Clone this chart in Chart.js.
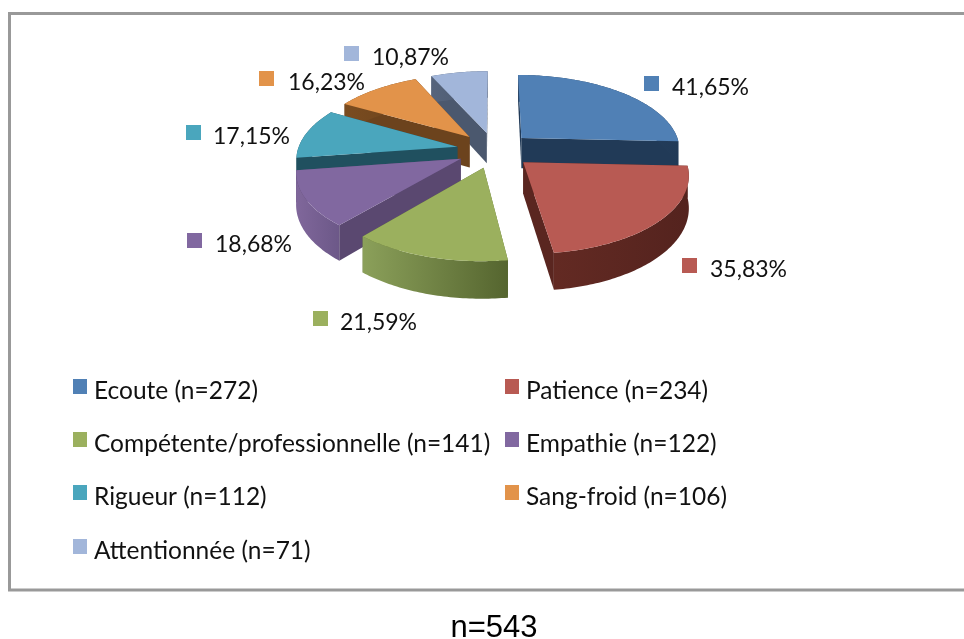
<!DOCTYPE html>
<html>
<head>
<meta charset="utf-8">
<title>Qualités</title>
<script src="https://cdn.jsdelivr.net/npm/chart.js@4"></script>
<style>
  html, body { margin: 0; padding: 0; background: #fff; overflow: hidden; }
  #wrap { position: relative; width: 964px; height: 639px; }
</style>
</head>
<body>
<div id="wrap"><canvas id="chartQualites" width="964" height="639"></canvas></div>
<script>
var categories = ['Ecoute', 'Patience', 'Compétente/professionnelle', 'Empathie', 'Rigueur', 'Sang-froid', 'Attentionnée'];
var counts = [272, 234, 141, 122, 112, 106, 71];
var percentLabels = ['41,65%', '35,83%', '21,59%', '18,68%', '17,15%', '16,23%', '10,87%'];
var totalLabel = 'n=543';

var topColors = ['#5080b5', '#b85a53', '#9bb05e', '#8168a0', '#4aa6bd', '#e2934a', '#a2b6da'];
var radialColors = ['#213a57', '#5a2620', '#5f7034', '#5a4870', '#20505f', '#6c431d', '#4b586e'];
var rimLeft = ['#2a4668', '#632a23', '#8ba05a', '#80679b', '#20505f', '#7a4c20', '#56647c'];
var rimRight = ['#213a57', '#54231e', '#55652f', '#6c5888', '#20505f', '#6c431d', '#4b586e'];

// where the small keys of the value labels sit, and where their text starts
var valueKeys = [[644, 76], [682, 258], [313, 311], [187, 233], [186, 125], [259, 71], [344, 46]];
var valueTextX = [672, 710, 340, 215, 213, 288, 372];
var legendRows = [387, 440, 493, 547];
var legendCols = [73, 505];

var FONT = 'Lato, "Noto Sans", sans-serif';
var TILT_X = 0.95, TILT_Y = 0.446, PERSPECTIVE = 0.14, DEPTH = 0.185;

// ground plane -> screen, the front of the pie comes out bigger than the back
var project = function(arc, u, v, lowered) {
  var r = arc.outerRadius;
  var w = 1 - PERSPECTIVE * v;
  return {
    x: arc.x + r * TILT_X * u / w,
    y: arc.y + r * TILT_Y * v / w + (lowered ? r * DEPTH / w : 0)
  };
}

var fillPoly = function(ctx, pts, fill) {
  ctx.beginPath();
  pts.forEach(function(p, i) {
    if(i == 0) ctx.moveTo(p.x, p.y); else ctx.lineTo(p.x, p.y);
  });
  ctx.closePath();
  ctx.fillStyle = fill;
  ctx.fill();
}

var drawSlice = function(ctx, arc, i) {
  // chart.js angles start at 3 o'clock, the plane wants them from 12 o'clock
  var a0 = arc.startAngle + Math.PI / 2;
  var a1 = arc.endAngle + Math.PI / 2;
  var mid = (a0 + a1) / 2;
  var e = arc.options.offset / arc.outerRadius;
  var ou = e * Math.sin(mid), ov = -e * Math.cos(mid);

  var steps = Math.max(8, Math.round((a1 - a0) * 60));
  var edge = [];
  for(var s = 0; s <= steps; s++) {
    var a = a0 + (a1 - a0) * s / steps;
    edge.push({ a: a, u: ou + Math.sin(a), v: ov - Math.cos(a) });
  }
  var apex = { u: ou, v: ov };
  var top = function(p) { return project(arc, p.u, p.v, false); };
  var low = function(p) { return project(arc, p.u, p.v, true); };
  var first = edge[0], last = edge[edge.length - 1];

  // side walls, the ones further back go first
  var walls = [first, last].sort(function(p, q) { return p.v - q.v; });
  walls.forEach(function(p) {
    fillPoly(ctx, [top(apex), top(p), low(p), low(apex)], radialColors[i]);
  });

  var topPts = edge.map(top);
  var lowPts = edge.map(low).reverse();
  var xs = topPts.map(function(p) { return p.x; });
  var grad = ctx.createLinearGradient(Math.min.apply(null, xs), 0, Math.max.apply(null, xs), 0);
  grad.addColorStop(0, rimLeft[i]);
  grad.addColorStop(1, rimRight[i]);
  fillPoly(ctx, topPts.concat(lowPts), grad);

  fillPoly(ctx, [top(apex)].concat(topPts), topColors[i]);
}

var pie3d = {
  id: 'pie3d',
  beforeDatasetDraw: function(chart, args) {
    var ctx = chart.ctx;
    var arcs = args.meta.data;
    var order = arcs.map(function(arc, i) { return i; });
    // painter's order, back slices first
    order.sort(function(p, q) {
      return -Math.cos((arcs[p].startAngle + arcs[p].endAngle) / 2 + Math.PI / 2)
           + Math.cos((arcs[q].startAngle + arcs[q].endAngle) / 2 + Math.PI / 2);
    });
    order.forEach(function(i) { drawSlice(ctx, arcs[i], i); });
    return false;
  }
};

var decorations = {
  id: 'decorations',
  afterDraw: function(chart) {
    var ctx = chart.ctx;
    ctx.save();

    // frame runs off the right edge of the page
    ctx.strokeStyle = '#999';
    ctx.lineWidth = 3;
    ctx.beginPath();
    ctx.moveTo(970, 13.5);
    ctx.lineTo(9.5, 13.5);
    ctx.lineTo(9.5, 590);
    ctx.lineTo(970, 590);
    ctx.stroke();

    ctx.textBaseline = 'middle';
    ctx.textAlign = 'left';
    ctx.fillStyle = '#111';

    ctx.font = '23px ' + FONT;
    percentLabels.forEach(function(text, i) {
      var k = valueKeys[i];
      ctx.fillStyle = topColors[i];
      ctx.fillRect(k[0], k[1], 15, 15);
      ctx.fillStyle = '#111';
      ctx.fillText(text, valueTextX[i], k[1] + 12);
    });

    ctx.font = '24.5px ' + FONT;
    categories.forEach(function(name, i) {
      var x = legendCols[i % 2], y = legendRows[Math.floor(i / 2)];
      ctx.fillStyle = topColors[i];
      ctx.fillRect(x, y - 8, 14, 15);
      ctx.fillStyle = '#111';
      ctx.fillText(name + ' (n=' + counts[i] + ')', x + 21, y + 4);
    });

    ctx.fillStyle = '#000';
    ctx.textAlign = 'center';
    ctx.font = '31px "Liberation Sans", Arial, sans-serif';
    ctx.fillText(totalLabel, 494, 628.5);
    ctx.restore();
  }
};

window.chartQualites = new Chart(document.getElementById('chartQualites').getContext('2d'), {
  type: 'pie',
  data: {
    labels: categories,
    datasets: [{ data: counts, backgroundColor: topColors, offset: 40, borderWidth: 0 }]
  },
  options: {
    responsive: false,
    animation: false,
    radius: 168,
    layout: { padding: { left: 25, right: 0, top: 0, bottom: 339 } },
    events: [],
    plugins: { legend: { display: false }, tooltip: { enabled: false } }
  },
  plugins: [pie3d, decorations]
});
</script>
</body>
</html>
